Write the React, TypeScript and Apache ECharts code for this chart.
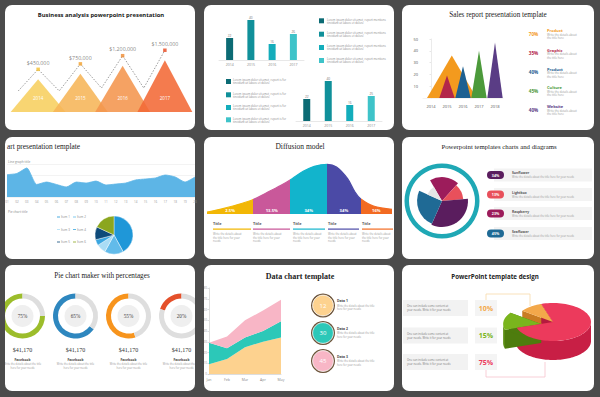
import React, { useEffect, useRef } from "react";
import * as echarts from "echarts";

const SANS = "Open Sans, DejaVu Sans, sans-serif";
const SERIF = "Liberation Serif, DejaVu Serif, serif";
const BG = "#4b4b4b";

// ---------- Panel 1 : business analysis ----------
const bizYears = ["2014", "2015", "2016", "2017"];
const bizValues = [450000, 750000, 1200000, 1500000];
const bizValleys = [-740000, -740000, -580000, -580000];
const bizLabels = ["$450,000", "$750,000", "$1,200,000", "$1,500,000"];
const bizColors = ["#f7cf5f", "#f6b558", "#f4954d", "#f26936"];
const bizDotColors = ["#f3bf2e", "#f3a12e", "#ef8a30", "#e84a20"];
const BIZ_MIN = -1900000;

// ---------- Panel 2 : teal bars ----------
const tealCats = ["2014", "2015", "2016", "2017"];
const tealTop = [22, 40, 16, 26];
const tealBottom = [22, 40, 16, 25];
const tealColors = ["#0c6b74", "#10909a", "#14adbb", "#3ec3c9"];

// ---------- Panel 3 : sales triangles ----------
const salesCats = ["2014", "2015", "2016", "2017", "2018"];
const salesPeaks = [36, 19, 27, 40, 47];
const salesPos = [1.3, 1, 2, 3, 4];
const salesSpread = [1.55, 0.48, 0.48, 0.48, 0.48];
const salesColors = ["#f39a1e", "#b3274a", "#1d6091", "#4c9a3b", "#5a3d85"];
const salesPct = ["70%", "35%", "40%", "45%", "40%"];
const salesNames = ["Product", "Graphic", "Product", "Culture", "Website"];

// ---------- Panel 4 : area + pie ----------
const lineCats = ["01", "02", "03", "04", "05", "06", "07", "08", "09", "10", "11", "12", "13", "14", "15", "16", "17", "18", "19", "20"];
const lineValues = [20.3, 21.4, 26.4, 11.4, 13.6, 11.4, 9.1, 13.6, 12.7, 14.5, 10.9, 11.8, 12.7, 15.5, 16.4, 17.3, 20, 18.2, 13.6, 18.2];
const pieNames = ["Item 1", "Item 2", "Item 3", "Item 4", "Item 5", "Item 6"];
const pieValues = [42, 16, 8, 5, 11, 18];
const pieColors = ["#1f97d8", "#62bbea", "#a9dcf5", "#3aa6e0", "#0e4a7a", "#8ba61f"];

// ---------- Panel 5 : diffusion ----------
const diffX = [0, 7, 14, 24, 32, 40, 46, 52, 58, 65, 70, 76, 80, 83, 90, 100];
const diffY = [2, 4.7, 8, 13.7, 21, 28.7, 35.3, 42.7, 47.7, 49.7, 47, 35.3, 22, 15.3, 8, 4.7];
const diffBounds = [0, 25, 45, 65, 83, 100];
const diffLabels = ["2.5%", "13.5%", "34%", "34%", "16%"];
const diffColors = ["#f2b705", "#c9589a", "#12b4cc", "#4b4aa6", "#f26a21"];

// ---------- Panel 6 : rose ----------
const roseNames = ["Raspberry", "Lightbox", "Sunflower", "Seaflower", "Other"];
const roseShare = [20, 12, 33, 25, 10];
const roseReach = [92, 82, 100, 96, 62];
const roseColors = ["#9c1c5b", "#e8505b", "#5a1d5e", "#1f6a95", "#e6e6e6"];
const pillValues = ["34%", "13%", "23%", "45%"];
const pillTitles = ["Sunflower", "Lightbox", "Raspberry", "Seaflower"];
const pillColors = ["#5a1d5e", "#e8505b", "#9c1c5b", "#1f6a95"];

// ---------- Panel 7 : donuts ----------
const donutValues = [75, 65, 55, 20];
const donutColors = ["#9cbd2b", "#2e87bf", "#f7941d", "#e4502a"];
const donutAmounts = ["$41,170", "$41,170", "$41,170", "$41,170"];
const donutNames = ["Facebook", "Facebook", "Facebook", "Facebook"];

// ---------- Panel 8 : stacked area ----------
const areaCats = ["Jan", "Feb", "Mar", "Apr", "May"];
const areaA = [9, 14, 25, 30, 34];
const areaB = [20, 10, 9, 10, 15];
const areaC = [0, 11, 16, 19, 20];
const areaColors = ["#fdd28f", "#2cc8b8", "#f8b6c6"];
const bubbleNums = ["12", "30", "45"];
const bubbleTitles = ["Data 1", "Data 2", "Data 3"];

// ---------- Panel 9 : 3D pie ----------
const pie3dLabels = ["10%", "15%", "75%"];
const pie3dValues = [10, 15, 75];
const pie3dExplode = [0, 1, 0];
const pie3dTop = ["#f3a84a", "#7ab51d", "#ec3a5c"];
const pie3dSide = ["#d98a2a", "#5a8c12", "#c81f45"];
const pie3dWall = ["#c97c22", "#4e7c0e", "#b51a3e"];

const cards = [
  [5, 5, 190, 125], [204, 5, 190, 125], [402, 5, 192, 125],
  [5, 137, 190, 122], [204, 137, 190, 122], [402, 137, 192, 122],
  [5, 265, 190, 126], [204, 265, 190, 126], [402, 265, 192, 126],
];

function T(x: number, y: number, text: string, o: any = {}) {
  const align = o.align || "left";
  return {
    type: "text", x, y, z: o.z ?? 20, silent: true,
    style: {
      text, fill: o.color || "#999", fontSize: o.size || 3,
      fontFamily: o.family || SANS, fontWeight: o.weight || "normal",
      textAlign: align, textVerticalAlign: "middle",
    },
  };
}
function R(x: number, y: number, w: number, h: number, fill: string, r = 0, z = 10) {
  return { type: "rect", z, silent: true, shape: { x, y, width: w, height: h, r }, style: { fill } };
}
function C(cx: number, cy: number, r: number, fill: string, z = 10, stroke?: string, lw = 0) {
  return { type: "circle", z, silent: true, shape: { cx, cy, r }, style: { fill, stroke, lineWidth: lw } };
}
function PL(points: number[][], stroke: string, lw = 0.8, z = 5) {
  return { type: "polyline", z, silent: true, shape: { points }, style: { stroke, lineWidth: lw, fill: "none" } };
}

const P3 = { cx: 553, cy: 322, rx: 38, ry: 19, d: 19 };
const pie3dTotal = pie3dValues.reduce((a, b) => a + b, 0);
const pie3dSpans = (() => {
  let a = (-108 * Math.PI) / 180;
  return pie3dValues.map((v) => {
    const s = a;
    a -= (v / pie3dTotal) * Math.PI * 2;
    return [a, s];
  });
})();
function p3Off(i: number) {
  const [lo, hi] = pie3dSpans[i];
  const m = (lo + hi) / 2;
  const o = pie3dExplode[i] * 12;
  return [o * Math.cos(m), o * Math.sin(m) * 0.55 + pie3dExplode[i] * 3];
}
function rim(t: number, dx: number, dy: number, down = 0) {
  return [P3.cx + dx + P3.rx * Math.cos(t), P3.cy + dy + P3.ry * Math.sin(t) + down];
}

function buildOption() {
  const G: any[] = [];
  cards.forEach(([x, y, w, h]) => G.push(R(x, y, w, h, "#ffffff", 7, -50)));

  // Panel 1
  G.push(T(101, 15, "Business analysis powerpoint presentation", { size: 5.9, weight: "bold", color: "#1a1a1a", align: "center" }));

  // Panel 2 legends
  [18.3, 31.7, 45, 58].forEach((y, i) => {
    G.push(R(319, y, 5, 5, tealColors[i]));
    G.push(T(327, y + 1.2, "Lorem ipsum dolor sit amet, report mentions", { size: 2.8, color: "#8a8a8a" }));
    G.push(T(327, y + 4.2, "tincidunt ut labore et dolore", { size: 2.8, color: "#8a8a8a" }));
  });
  [79, 92.3, 105, 117.3].forEach((y, i) => {
    G.push(R(226, y, 5, 5, tealColors[i]));
    G.push(T(233, y + 1.2, "Lorem ipsum dolor sit amet, report is for", { size: 2.8, color: "#8a8a8a" }));
    G.push(T(233, y + 4.2, "tincidunt ut labore et dolore", { size: 2.8, color: "#8a8a8a" }));
  });

  // Panel 3
  G.push(T(498, 15, "Sales report presentation template", { size: 7.2, family: SERIF, color: "#222", align: "center" }));
  [34, 53.3, 72.3, 90.7, 110].forEach((y, i) => {
    G.push(T(533.5, y, salesPct[i], { size: 4.6, weight: "bold", color: salesColors[i], align: "center" }));
    G.push(T(547, y - 3.3, salesNames[i], { size: 4, weight: "bold", color: salesColors[i] }));
    G.push(T(547, y + 1, "Write the details about", { size: 2.8, color: "#999" }));
    G.push(T(547, y + 4.3, "the title here", { size: 2.8, color: "#999" }));
  });

  // Panel 4
  G.push(T(7, 146, "art presentation template", { size: 7.4, family: SERIF, color: "#222" }));
  G.push(T(8, 161.5, "Line graph title", { size: 3.2, color: "#888" }));
  G.push(T(8, 212, "Pie chart title", { size: 3.2, color: "#888" }));
  const legX = [57, 73];
  const legY = [217, 229.5, 242];
  pieNames.forEach((n, i) => {
    const x = legX[i % 2];
    const y = legY[Math.floor(i / 2)];
    G.push(PL([[x, y], [x + 3, y]], pieColors[i], 0.8, 10));
    G.push(T(x + 4, y, n, { size: 3, color: "#888" }));
  });

  // Panel 5
  G.push(T(300, 146, "Diffusion model", { size: 7.5, family: SERIF, color: "#222", align: "center" }));
  const colX = [213, 253, 293, 328, 362];
  const colW = [38, 37, 32, 31, 31];
  colX.forEach((x, i) => {
    G.push(T(x, 223.7, "Title", { size: 3.8, weight: "bold", color: "#555" }));
    G.push(R(x, 228.5, colW[i], 1.2, diffColors[i]));
    G.push(T(x, 234, "Write the details about", { size: 2.7, color: "#999" }));
    G.push(T(x, 237.5, "the title here for your", { size: 2.7, color: "#999" }));
    G.push(T(x, 241, "needs", { size: 2.7, color: "#999" }));
  });

  // Panel 6
  G.push(T(499, 146, "Powerpoint templates charts and diagrams", { size: 6.8, family: SERIF, color: "#222", align: "center" }));
  [175, 194.5, 213.5, 233.5].forEach((y, i) => {
    G.push(R(494, y - 6.5, 98, 13, "#f3f3f3", 0, 8));
    G.push(R(487, y - 4, 17, 8, pillColors[i], 4, 10));
    G.push(T(495.5, y, pillValues[i], { size: 3.6, weight: "bold", color: "#fff", align: "center" }));
    G.push(T(512, y - 2.5, pillTitles[i], { size: 3.4, weight: "bold", color: "#555" }));
    G.push(T(512, y + 1.8, "Write the details about the title here for your needs", { size: 2.6, color: "#999" }));
  });

  // Panel 7
  G.push(T(102, 276, "Pie chart maker with percentages", { size: 7.2, family: SERIF, color: "#222", align: "center" }));
  const donutX = [22.5, 75.5, 128.5, 181.5];
  donutX.forEach((x, i) => {
    G.push(C(x, 316, 11, "#efefef", 10));
    G.push(T(x, 316, donutValues[i] + "%", { size: 5.2, family: SERIF, color: "#444", align: "center" }));
    G.push(T(x, 349.5, donutAmounts[i], { size: 6, family: SERIF, color: "#333", align: "center" }));
    G.push(T(x, 359, donutNames[i], { size: 3.4, weight: "bold", color: "#444", align: "center" }));
    G.push(T(x, 364, "Write the details about the title", { size: 2.6, color: "#999", align: "center" }));
    G.push(T(x, 367.5, "here for your needs", { size: 2.6, color: "#999", align: "center" }));
  });

  // Panel 8
  G.push(T(300, 276, "Data chart template", { size: 8, family: SERIF, weight: "bold", color: "#222", align: "center" }));
  [305.5, 333, 361].forEach((y, i) => {
    G.push(C(323, y, 12, "#6b5238", 10));
    G.push(C(323, y, 10.4, areaColors[i], 11, "#ffffff", 0.8));
    G.push(T(323, y, bubbleNums[i], { size: 6, color: "#fff", align: "center", z: 12 }));
    G.push(T(337, y - 5, bubbleTitles[i], { size: 3.4, weight: "bold", color: "#444" }));
    G.push(T(337, y, "Write the details about the title", { size: 2.6, color: "#999" }));
    G.push(T(337, y + 3.5, "here for your needs", { size: 2.6, color: "#999" }));
  });

  // Panel 9
  G.push(T(495, 276, "PowerPoint template design", { size: 6.2, weight: "bold", color: "#222", align: "center" }));
  G.push(PL([[486, 300], [486, 294], [530, 294], [530, 306]], "#f8d9a8", 0.8, 5));
  G.push(PL([[486, 370], [486, 377], [545, 377], [545, 362]], "#f6c3cd", 0.8, 5));
  const p3Rows = [300, 327.5, 354];
  p3Rows.forEach((y, i) => {
    G.push(R(403, y, 65, 16, "#f2f2f2", 0, 8));
    G.push(T(407, y + 6, "One can include some content at", { size: 2.7, color: "#777" }));
    G.push(T(407, y + 10, "your needs. Write it for your needs", { size: 2.7, color: "#777" }));
    G.push(R(475, y, 22, 16, "#f4f4f4", 0, 8));
    G.push(T(486, y + 8.2, pie3dLabels[i], { size: 7, weight: "bold", color: pie3dTop[i], align: "center" }));
  });

  // overlays (card clipping)
  G.push(R(0, 262, 5, 135, BG, 0, 100));
  G.push(R(195, 262, 9, 135, BG, 0, 100));

  const hiddenVal = (extra: any = {}) => ({ type: "value", show: false, splitLine: { show: false }, ...extra });

  const grids = [
    { left: 17, top: 23, width: 169, height: 89 },
    { left: 219, top: 10, width: 85, height: 50 },
    { left: 296, top: 71, width: 86, height: 50 },
    { left: 423, top: 39, width: 80, height: 59 },
    { left: 7, top: 164, width: 188, height: 33 },
    { left: 207, top: 160, width: 185, height: 54 },
    { left: 209, top: 288, width: 72, height: 86 },
  ];

  const smallCat = (data: string[], gridIndex: number, extra: any = {}) => ({
    type: "category", gridIndex, data,
    axisLine: { show: true, lineStyle: { color: "#d0d0d0", width: 0.5 } },
    axisTick: { show: false },
    axisLabel: { fontSize: 3.5, color: "#888", margin: 2.5, fontFamily: SANS, interval: 0 },
    ...extra,
  });

  const xAxis = [
    hiddenVal({ gridIndex: 0, min: -0.5, max: 3.5 }),
    smallCat(tealCats, 1),
    smallCat(tealCats, 2),
    smallCat(salesCats, 3, { axisLine: { show: true, lineStyle: { color: "#e6e6e6", width: 0.5 } }, axisLabel: { fontSize: 4, color: "#555", margin: 6, fontFamily: SANS } }),
    hiddenVal({ gridIndex: 3, min: -0.5, max: 4.5 }),
    smallCat(lineCats, 4, { boundaryGap: false, axisLine: { show: false }, axisLabel: { fontSize: 3, color: "#999", margin: 3, interval: 0, fontFamily: SANS } }),
    hiddenVal({ gridIndex: 5, min: 0, max: 100 }),
    smallCat(areaCats, 6, { boundaryGap: false, axisLine: { show: true, lineStyle: { color: "#bbb", width: 0.5 } }, axisLabel: { fontSize: 3.5, color: "#888", margin: 3, fontFamily: SANS } }),
  ];

  const yAxis = [
    hiddenVal({ gridIndex: 0, min: BIZ_MIN, max: 3000000 }),
    hiddenVal({ gridIndex: 1, min: 0, max: 50 }),
    hiddenVal({ gridIndex: 2, min: 0, max: 50 }),
    {
      type: "value", gridIndex: 3, min: 0, max: 50, interval: 10,
      axisLine: { show: true, lineStyle: { color: "#ddd", width: 0.6 } },
      axisTick: { show: true, length: 1.5, lineStyle: { color: "#ccc", width: 0.5 } },
      axisLabel: { fontSize: 4, color: "#555", margin: 5, showMinLabel: false, fontFamily: SANS },
      splitLine: { show: false },
    },
    {
      type: "value", gridIndex: 4, min: 0, max: 30, interval: 10,
      axisLine: { show: false }, axisTick: { show: false }, axisLabel: { show: false },
      splitLine: { show: true, lineStyle: { color: "#e6e6e6", width: 0.5 } },
    },
    hiddenVal({ gridIndex: 5, min: 0, max: 54 }),
    {
      type: "value", gridIndex: 6, min: 0, max: 80, interval: 10,
      axisLine: { show: true, lineStyle: { color: "#bbb", width: 0.5 } },
      axisTick: { show: true, length: 1.5, lineStyle: { color: "#bbb", width: 0.5 } },
      axisLabel: { fontSize: 3, color: "#999", margin: 2, fontFamily: SANS },
      splitLine: { show: false },
    },
  ];

  const series: any[] = [];

  // 0: triangles panel 1
  series.push({
    type: "custom", xAxisIndex: 0, yAxisIndex: 0, silent: true, clip: false, z: 2,
    data: bizValues.map((v, i) => [i, v]),
    renderItem: (params: any, api: any) => {
      const i = api.value(0);
      const top = api.coord([i, api.value(1)]);
      const base = api.coord([i, BIZ_MIN]);
      const hw = api.size([1, 0])[0] * 0.65;
      return {
        type: "group",
        children: [
          { type: "polygon", shape: { points: [[top[0] - hw, base[1]], [top[0], top[1] + 10], [top[0] + hw, base[1]]] }, style: { fill: bizColors[i], opacity: 0.88 } },
          { type: "text", x: top[0], y: base[1] - 14, style: { text: bizYears[i], fill: "#fff", fontSize: 4.5, fontFamily: SANS, textAlign: "center", textVerticalAlign: "middle" } },
        ],
      };
    },
  });
  // 1: dashed zigzag
  const zig: number[][] = [];
  bizValues.forEach((v, i) => {
    zig.push([i - (i === 0 ? 0.47 : 0.5), bizValleys[i]]);
    zig.push([i, v]);
  });
  series.push({
    type: "line", xAxisIndex: 0, yAxisIndex: 0, data: zig, symbol: "none", silent: true, z: 3,
    lineStyle: { color: "#555", width: 0.6, type: [1.5, 1.5] },
  });
  // 2: dots
  series.push({
    type: "scatter", xAxisIndex: 0, yAxisIndex: 0, symbol: "rect", symbolSize: 3.5, silent: true, z: 4,
    data: bizValues.map((v, i) => ({ value: [i, v], itemStyle: { color: bizDotColors[i] } })),
    label: { show: true, position: "top", distance: 2, fontSize: 5.3, color: "#666", fontFamily: SANS, formatter: (p: any) => bizLabels[p.dataIndex] },
  });
  // 3,4: teal bars
  [tealTop, tealBottom].forEach((vals, k) => {
    series.push({
      type: "bar", xAxisIndex: 1 + k, yAxisIndex: 1 + k, barWidth: 7, silent: true,
      data: vals.map((v, i) => ({ value: v, itemStyle: { color: tealColors[i] } })),
      label: { show: true, position: "top", distance: 1, fontSize: 3.2, color: "#777", fontFamily: SANS },
    });
  });
  // 5: sales triangles
  series.push({
    type: "custom", xAxisIndex: 4, yAxisIndex: 3, silent: true, clip: false,
    data: salesPeaks.map((v, i) => [salesPos[i], v, salesSpread[i]]),
    renderItem: (params: any, api: any) => {
      const x = api.value(0), v = api.value(1), s = api.value(2);
      const apex = api.coord([x, v]);
      const l = api.coord([x - s, 0]);
      const r = api.coord([x + s, 0]);
      return { type: "polygon", shape: { points: [l, apex, r] }, style: { fill: salesColors[params.dataIndex] } };
    },
  });
  // 6: area line panel 4
  series.push({
    type: "line", xAxisIndex: 5, yAxisIndex: 4, data: lineValues, symbol: "none", smooth: 0.2, silent: true,
    lineStyle: { color: "#5db5e6", width: 0.8 }, areaStyle: { color: "#5db5e6", opacity: 1 },
  });
  // 7: pie panel 4
  series.push({
    type: "pie", center: [114, 235], radius: 19, startAngle: 90, silent: true,
    label: { show: false }, labelLine: { show: false },
    itemStyle: { borderColor: "#fff", borderWidth: 0.4 },
    data: pieValues.map((v, i) => ({ value: v, name: pieNames[i], itemStyle: { color: pieColors[i] } })),
  });
  // 8: diffusion curve
  series.push({
    type: "line", xAxisIndex: 6, yAxisIndex: 5, data: diffX.map((x, i) => [x, diffY[i]]), symbol: "none", smooth: 0.35, silent: true,
    lineStyle: { width: 1.2 }, areaStyle: { opacity: 1 },
  });
  // 9: diffusion labels
  series.push({
    type: "custom", xAxisIndex: 6, yAxisIndex: 5, silent: true, clip: false, z: 5,
    data: diffLabels.map((_, i) => [diffBounds[i], diffBounds[i + 1]]),
    renderItem: (params: any, api: any) => {
      const a = api.value(0), b = api.value(1);
      const p = api.coord([(a + b) / 2, 0]);
      return { type: "text", x: p[0], y: p[1] - 3.5, style: { text: diffLabels[params.dataIndex], fill: "#fff", fontSize: 4.2, fontWeight: "bold", fontFamily: SANS, textAlign: "center", textVerticalAlign: "middle" } };
    },
  });
  // 10: teal ring
  series.push({
    type: "pie", center: [442, 201], radius: [33, 37.5], silent: true, label: { show: false }, labelLine: { show: false },
    data: [{ value: 1, itemStyle: { color: "#1fa8b5" } }],
  });
  // 11-15: rose pieces
  roseShare.forEach((_, k) => {
    series.push({
      type: "pie", center: [442, 201], radius: [0, (26 * roseReach[k]) / 100], startAngle: 120, silent: true,
      label: { show: false }, labelLine: { show: false },
      data: roseShare.map((v, i) => ({ value: v, name: roseNames[i], itemStyle: { color: i === k ? roseColors[i] : "rgba(0,0,0,0)" } })),
    });
  });
  // donuts
  donutValues.forEach((v, i) => {
    series.push({
      type: "pie", center: [donutX[i], 316], radius: [17.5, 22.5], startAngle: 90, clockwise: false, silent: true,
      label: { show: false }, labelLine: { show: false },
      data: [
        { value: v, itemStyle: { color: donutColors[i] } },
        { value: 100 - v, itemStyle: { color: "#dedede" } },
      ],
    });
  });
  // stacked areas
  [areaA, areaB, areaC].forEach((vals, i) => {
    series.push({
      type: "line", xAxisIndex: 7, yAxisIndex: 6, stack: "q", data: vals, symbol: "none", silent: true,
      lineStyle: { width: 0 }, areaStyle: { color: areaColors[i], opacity: 1 },
    });
  });
  // 3D pie sides
  const sideOrder = pie3dValues.map((_, i) => i).sort((a, b) => pie3dExplode[a] - pie3dExplode[b]);
  series.push({
    type: "custom", coordinateSystem: "none", silent: true, z: 3,
    data: sideOrder.map((i) => [i]),
    renderItem: (params: any, api: any) => {
      const i = api.value(0);
      const [lo, hi] = pie3dSpans[i];
      const [dx, dy] = p3Off(i);
      const c = [P3.cx + dx, P3.cy + dy];
      const children: any[] = [];
      [lo, hi].forEach((t) => {
        const r = rim(t, dx, dy);
        children.push({ type: "polygon", shape: { points: [c, r, [r[0], r[1] + P3.d], [c[0], c[1] + P3.d]] }, style: { fill: pie3dWall[i] } });
      });
      let seg: number[] = [];
      const flush = () => {
        if (seg.length > 1) {
          const top = seg.map((t) => rim(t, dx, dy));
          const bot = seg.slice().reverse().map((t) => rim(t, dx, dy, P3.d));
          children.push({ type: "polygon", shape: { points: top.concat(bot) }, style: { fill: pie3dSide[i] } });
        }
        seg = [];
      };
      const N = 120;
      for (let k = 0; k <= N; k++) {
        const t = lo + ((hi - lo) * k) / N;
        if (Math.sin(t) >= -0.001) seg.push(t);
        else flush();
      }
      flush();
      return { type: "group", children };
    },
  });
  // 3D pie tops
  series.push({
    type: "custom", coordinateSystem: "none", silent: true, z: 4,
    data: pie3dValues.map((_, i) => [i]),
    renderItem: (params: any, api: any) => {
      const i = api.value(0);
      const [lo, hi] = pie3dSpans[i];
      const [dx, dy] = p3Off(i);
      const pts: number[][] = [[P3.cx + dx, P3.cy + dy]];
      const N = 80;
      for (let k = 0; k <= N; k++) pts.push(rim(lo + ((hi - lo) * k) / N, dx, dy));
      return { type: "polygon", shape: { points: pts }, style: { fill: pie3dTop[i] } };
    },
  });

  return {
    backgroundColor: BG,
    animation: false,
    grid: grids,
    xAxis,
    yAxis,
    visualMap: [
      {
        type: "piecewise", show: false, dimension: 0, seriesIndex: 8,
        pieces: diffColors.map((c, i) => ({ gte: diffBounds[i], lt: i === diffColors.length - 1 ? 1000 : diffBounds[i + 1], color: c })),
      },
    ],
    series,
    graphic: { elements: G },
  };
}

export default function App() {
  const ref = useRef<HTMLDivElement>(null);
  useEffect(() => {
    document.body.style.margin = "0";
    const chart = echarts.init(ref.current!, null, { renderer: "svg" });
    chart.setOption(buildOption() as any);
    return () => chart.dispose();
  }, []);
  return <div ref={ref} style={{ width: 600, height: 397, position: "absolute", left: 0, top: 0 }} />;
}
